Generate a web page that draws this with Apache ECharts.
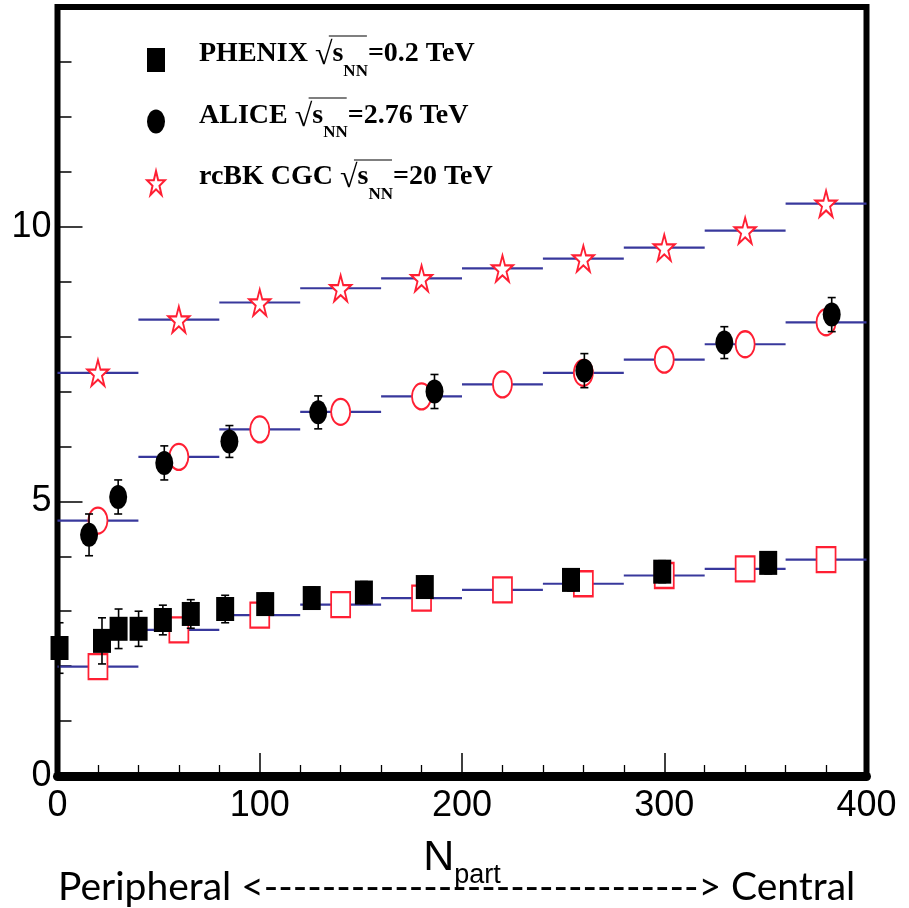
<!DOCTYPE html>
<html>
<head>
<meta charset="utf-8">
<script src="https://cdn.jsdelivr.net/npm/echarts@6/dist/echarts.min.js"></script>
<style>
html,body{margin:0;padding:0;background:#fff;}
#chart{width:909px;height:908px;}
</style>
</head>
<body>
<div id="chart"></div>
<script>
// ---------------- data ----------------
const binCenters = [20, 60, 100, 140, 180, 220, 260, 300, 340, 380];
const binHalfWidth = 20;
const model20TeV  = [7.34, 8.31, 8.62, 8.88, 9.06, 9.24, 9.42, 9.62, 9.93, 10.42];
const model276TeV = [4.65, 5.81, 6.31, 6.63, 6.91, 7.13, 7.34, 7.58, 7.86, 8.26];
const model02TeV  = [1.99, 2.66, 2.93, 3.12, 3.24, 3.39, 3.50, 3.65, 3.77, 3.94];

const aliceNpart = [15.6, 30.0, 52.8, 85.0, 128.9, 186.4, 260.5, 329.7, 382.8];
const aliceVal   = [4.39, 5.08, 5.70, 6.09, 6.62, 7.00, 7.38, 7.89, 8.40];
const aliceErr   = [0.38, 0.31, 0.31, 0.29, 0.30, 0.31, 0.31, 0.29, 0.31];

const phenixNpart = [1, 22.0, 30.2, 40.1, 52.1, 65.9, 82.9, 102.7, 125.7, 151.5, 181.6, 253.9, 299.0, 351.4];
const phenixVal   = [2.33, 2.46, 2.68, 2.68, 2.84, 2.95, 3.04, 3.13, 3.24, 3.34, 3.44, 3.57, 3.72, 3.88];
const phenixErr   = [0.46, 0.42, 0.36, 0.32, 0.27, 0.26, 0.25, 0.20, 0.20, 0.20, 0.20, 0.20, 0.20, 0.20];

const xTickLabels = [0, 100, 200, 300, 400];
const yTickLabels = [0, 5, 10];

// ---------------- styling ----------------
const RED = '#ff1f33';
const BLUE = '#38389c';
const SANS = 'Liberation Sans';
const ELLIPSE = 'path://M0,50 A50,50 0 1,1 100,50 A50,50 0 1,1 0,50 Z';
const STAR = 'path://M50,0 L61.8,35.1 L98.9,35.1 L68.8,57.1 L80.2,92.3 L50,70.5 L19.8,92.3 L31.2,57.1 L1.1,35.1 L38.2,35.1 Z';

const zip = (a, b) => a.map((v, i) => [v, b[i]]);
const zip3 = (a, b, c) => a.map((v, i) => [v, b[i], c[i]]);

const segData = [].concat(zip(binCenters, model20TeV), zip(binCenters, model276TeV), zip(binCenters, model02TeV));

function segRender(params, api) {
  const x = api.value(0), y = api.value(1);
  const p1 = api.coord([x - binHalfWidth, y]);
  const p2 = api.coord([x + binHalfWidth, y]);
  return {type: 'line', shape: {x1: p1[0], y1: p1[1], x2: p2[0], y2: p2[1]},
          style: {stroke: BLUE, lineWidth: 2.2}};
}
function errRender(params, api) {
  const x = api.value(0), y = api.value(1), e = api.value(2);
  const t = api.coord([x, y + e]);
  const b = api.coord([x, y - e]);
  const cw = 4;
  const st = {stroke: '#000', lineWidth: 1.6};
  return {type: 'group', children: [
    {type: 'line', shape: {x1: t[0], y1: t[1], x2: b[0], y2: b[1]}, style: st},
    {type: 'line', shape: {x1: t[0] - cw, y1: t[1], x2: t[0] + cw, y2: t[1]}, style: st},
    {type: 'line', shape: {x1: b[0] - cw, y1: b[1], x2: b[0] + cw, y2: b[1]}, style: st}
  ]};
}

const GRID = {left: 57.5, right: 42.5, top: 7, bottom: 132};

const mainFont = {fontFamily: 'Liberation Serif', fontWeight: 'bold', fontSize: 28, lineHeight: 30, verticalAlign: 'top', color: '#000'};
const rich = {
  t0: Object.assign({}, mainFont, {padding: [0, 0, 0, 29]}),
  t: mainFont,
  r: {fontFamily: 'Liberation Serif', fontSize: 32, lineHeight: 40, verticalAlign: 'top', color: '#000'},
  s: mainFont,
  sub: {fontFamily: 'Liberation Serif', fontWeight: 'bold', fontSize: 17, lineHeight: 16, verticalAlign: 'bottom', color: '#000'}
};
const legendText = {
  'PHENIX': ['PHENIX ', '=0.2 TeV'],
  'ALICE': ['ALICE ', '=2.76 TeV'],
  'rcBK': ['rcBK CGC ', '=20 TeV']
};

// overline above s_NN, positioned from measured text widths
const cv = document.createElement('canvas').getContext('2d');
function tw(font, s) { cv.font = font; return cv.measureText(s).width; }
const LEG_LEFT = 141, TEXT_X = LEG_LEFT + 5 + 18 + 5 + 29;
const overlineY = [36, 98, 160];
const overlines = ['PHENIX', 'ALICE', 'rcBK'].map((k, i) => {
  const pre = tw('bold 28px "Liberation Serif"', legendText[k][0]);
  const rw = tw('32px "Liberation Serif"', '\u221A');
  const sw = tw('bold 28px "Liberation Serif"', 's');
  const nw = tw('bold 17px "Liberation Serif"', 'NN');
  const x1 = TEXT_X + pre + rw * 0.85;
  const x2 = TEXT_X + pre + rw + sw + nw;
  const y = overlineY[i];
  return {type: 'line', shape: {x1: x1, y1: y, x2: x2, y2: y}, style: {stroke: '#555', lineWidth: 1.5}, z: 100};
});

const chart = echarts.init(document.getElementById('chart'), null, {renderer: 'canvas'});
chart.setOption({
  animation: false,
  backgroundColor: '#fff',
  title: {
    text: 'Peripheral <------------------------------> Central',
    left: 53, top: 863,
    textStyle: {fontFamily: 'Lato', fontSize: 39, fontWeight: 'normal', color: '#000'}
  },
  grid: Object.assign({show: true, borderColor: '#000', borderWidth: 6, backgroundColor: 'transparent'}, GRID),
  legend: {
    orient: 'vertical', left: LEG_LEFT, top: 35, itemGap: 21.5,
    itemWidth: 18, itemHeight: 24, symbolKeepAspect: false,
    data: [
      {name: 'PHENIX', icon: 'rect', itemStyle: {color: '#000', borderWidth: 0}},
      {name: 'ALICE', icon: ELLIPSE, itemStyle: {color: '#000', borderWidth: 0}},
      {name: 'rcBK', icon: STAR, itemStyle: {color: '#fff', borderColor: RED, borderWidth: 2}}
    ],
    formatter: n => '{t0|' + legendText[n][0] + '}{r|\u221A}{s|s}{sub|NN}{t|' + legendText[n][1] + '}',
    textStyle: {rich: rich},
    selectedMode: false
  },
  graphic: overlines,
  xAxis: {
    type: 'value', min: 0, max: 400, interval: 100,
    name: '{n|N}{p|part}', nameLocation: 'middle', nameGap: 71,
    nameTextStyle: {rich: {
      n: {fontFamily: SANS, fontSize: 43, lineHeight: 42, verticalAlign: 'bottom', color: '#000', padding: [0, 0, 9, 0]},
      p: {fontFamily: SANS, fontSize: 27, lineHeight: 24, verticalAlign: 'bottom', color: '#000'}
    }},
    axisLine: {show: true, lineStyle: {color: '#000', width: 9}},
    axisTick: {show: true, inside: true, length: 23, lineStyle: {color: '#000', width: 1.5}},
    minorTick: {show: true, splitNumber: 5, length: 11, lineStyle: {color: '#000', width: 1.3}},
    axisLabel: {show: true, margin: 12, fontFamily: SANS, fontSize: 36, color: '#000',
      formatter: v => (xTickLabels.indexOf(v) >= 0 ? String(v) : '')},
    splitLine: {show: false}
  },
  yAxis: [
    {
      type: 'value', min: 0, max: 14, interval: 1, position: 'left',
      axisLine: {show: true, lineStyle: {color: '#000', width: 5}},
      axisTick: {show: true, inside: true, length: 14, lineStyle: {color: '#000', width: 1.5}},
      axisLabel: {show: false}, splitLine: {show: false}
    },
    {
      type: 'value', min: 0, max: 14, interval: 5, position: 'left', offset: 0,
      axisLine: {show: false},
      axisTick: {show: true, inside: true, length: 25, lineStyle: {color: '#000', width: 1.5}},
      axisLabel: {show: true, margin: 6, showMaxLabel: false, fontFamily: SANS, fontSize: 36, color: '#000',
        formatter: v => (yTickLabels.indexOf(v) >= 0 ? String(v) : '')},
      splitLine: {show: false}
    }
  ],
  series: [
    {name: 'bins', type: 'custom', renderItem: segRender, data: segData, z: 2, silent: true},
    {name: 'rcBK', type: 'scatter', data: zip(binCenters, model20TeV), symbol: STAR, symbolSize: [21, 26],
     itemStyle: {color: '#fff', borderColor: RED, borderWidth: 2, opacity: 1}, z: 3},
    {name: 'model276', type: 'scatter', data: zip(binCenters, model276TeV), symbol: ELLIPSE, symbolSize: [19, 26],
     itemStyle: {color: '#fff', borderColor: RED, borderWidth: 2, opacity: 1}, z: 3},
    {name: 'model02', type: 'scatter', data: zip(binCenters, model02TeV), symbol: 'rect', symbolSize: [19, 25],
     itemStyle: {color: '#fff', borderColor: RED, borderWidth: 2, opacity: 1}, z: 3},
    {name: 'PHENIX', type: 'scatter', data: zip(phenixNpart, phenixVal), symbol: 'rect', symbolSize: [18, 24],
     itemStyle: {color: '#000', opacity: 1}, z: 4},
    {name: 'ALICE', type: 'scatter', data: zip(aliceNpart, aliceVal), symbol: ELLIPSE, symbolSize: [18, 24],
     itemStyle: {color: '#000', opacity: 1}, z: 4},
    {name: 'phenixErr', type: 'custom', renderItem: errRender, data: zip3(phenixNpart, phenixVal, phenixErr), z: 5, silent: true},
    {name: 'aliceErr', type: 'custom', renderItem: errRender, data: zip3(aliceNpart, aliceVal, aliceErr), z: 5, silent: true}
  ]
});
</script>
</body>
</html>
